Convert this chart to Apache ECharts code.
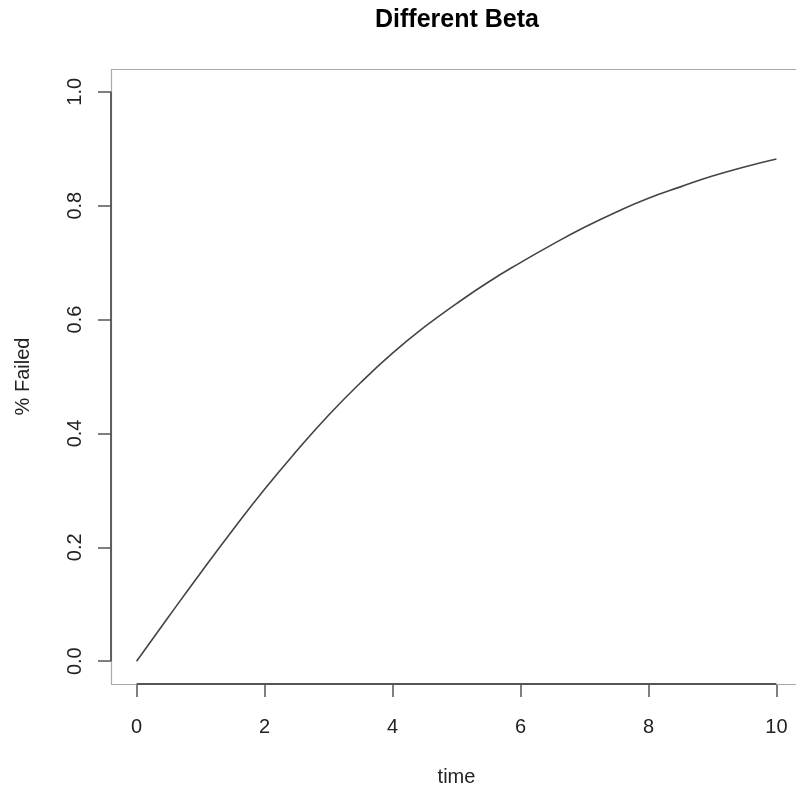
<!DOCTYPE html>
<html>
<head>
<meta charset="utf-8">
<title>Different Beta</title>
<script src="https://cdn.jsdelivr.net/npm/echarts@6/dist/echarts.min.js"></script>
<style>
  html, body { margin: 0; padding: 0; background: #ffffff; }
  #chart { width: 796px; height: 788px; }
</style>
</head>
<body>
<div id="chart"></div>
<script>
// Cumulative share of failed units over time
const time = [0, 0.5, 1, 1.5, 2, 2.5, 3, 3.5, 4, 4.5, 5, 5.5, 6, 6.5, 7, 7.5, 8, 8.5, 9, 9.5, 10];
const failed = [0.000, 0.078, 0.155, 0.230, 0.302, 0.369, 0.432, 0.489, 0.541, 0.587, 0.628,
                0.666, 0.700, 0.732, 0.762, 0.789, 0.813, 0.833, 0.852, 0.868, 0.882];

const xTicks = [0, 2, 4, 6, 8, 10];
const yTicks = [0, 0.2, 0.4, 0.6, 0.8, 1.0];

// data range padded by 4% on each side
const xMin = -0.4, xMax = 10.4;
const yMin = -0.04, yMax = 1.04;

const font = 'Liberation Sans, Arial, Helvetica, sans-serif';
const axisColor = '#555555';
const boxColor = '#aaaaaa';

const chart = echarts.init(document.getElementById('chart'), null, { renderer: 'canvas' });

// plot frame (light) and axis lines spanning the tick range (dark)
const boxStyle = { lineStyle: { color: boxColor, width: 1.2, type: 'solid' } };
const frame = [
  [{ coord: [xMin, yMax], ...boxStyle }, { coord: [xMax, yMax] }],
  [{ coord: [xMax, yMin], ...boxStyle }, { coord: [xMax, yMax] }],
  [{ coord: [xMin, yMin], ...boxStyle }, { coord: [xMax, yMin] }],
  [{ coord: [xMin, yMin], ...boxStyle }, { coord: [xMin, yMax] }],
  [{ coord: [xMin, yTicks[0]] }, { coord: [xMin, yTicks[yTicks.length - 1]] }],
  [{ coord: [xTicks[0], yMin] }, { coord: [xTicks[xTicks.length - 1], yMin] }]
];

chart.setOption({
  backgroundColor: '#ffffff',
  animation: false,
  title: {
    text: 'Different Beta',
    left: 452,
    textAlign: 'center',
    top: 3,
    textStyle: { fontFamily: font, fontSize: 25, fontWeight: 'bold', color: '#000000' }
  },
  grid: {
    left: 111,
    top: 69,
    width: 691,
    height: 615,
    outerBoundsMode: 'none',
    containLabel: false,
    show: false
  },
  xAxis: {
    type: 'value',
    min: xMin,
    max: xMax,
    name: 'time',
    nameLocation: 'middle',
    nameGap: 83,
    nameTextStyle: { fontFamily: font, fontSize: 20, color: '#222222' },
    axisLine: { show: false, onZero: false },
    splitLine: { show: false },
    axisTick: {
      show: true,
      length: 13,
      customValues: xTicks,
      lineStyle: { color: axisColor, width: 1.5 }
    },
    axisLabel: {
      show: true,
      customValues: xTicks,
      margin: 33,
      fontFamily: font,
      fontSize: 20,
      color: '#222222',
      formatter: v => String(v)
    }
  },
  yAxis: {
    type: 'value',
    min: yMin,
    max: yMax,
    name: '% Failed',
    nameLocation: 'middle',
    nameRotate: 90,
    nameGap: 78,
    nameTextStyle: { fontFamily: font, fontSize: 20, color: '#222222' },
    axisLine: { show: false, onZero: false },
    splitLine: { show: false },
    axisTick: {
      show: true,
      length: 13,
      customValues: yTicks,
      lineStyle: { color: axisColor, width: 1.5 }
    },
    axisLabel: {
      show: true,
      customValues: yTicks,
      rotate: 90,
      margin: 26,
      fontFamily: font,
      fontSize: 20,
      color: '#222222',
      formatter: v => v.toFixed(1)
    }
  },
  series: [{
    type: 'line',
    data: time.map((t, i) => [t, failed[i]]),
    showSymbol: false,
    smooth: true,
    clip: false,
    lineStyle: { color: '#444444', width: 1.6 },
    markLine: {
      silent: true,
      symbol: ['none', 'none'],
      label: { show: false },
      lineStyle: { type: 'solid', color: axisColor, width: 1.8 },
      data: frame
    }
  }]
});
</script>
</body>
</html>
